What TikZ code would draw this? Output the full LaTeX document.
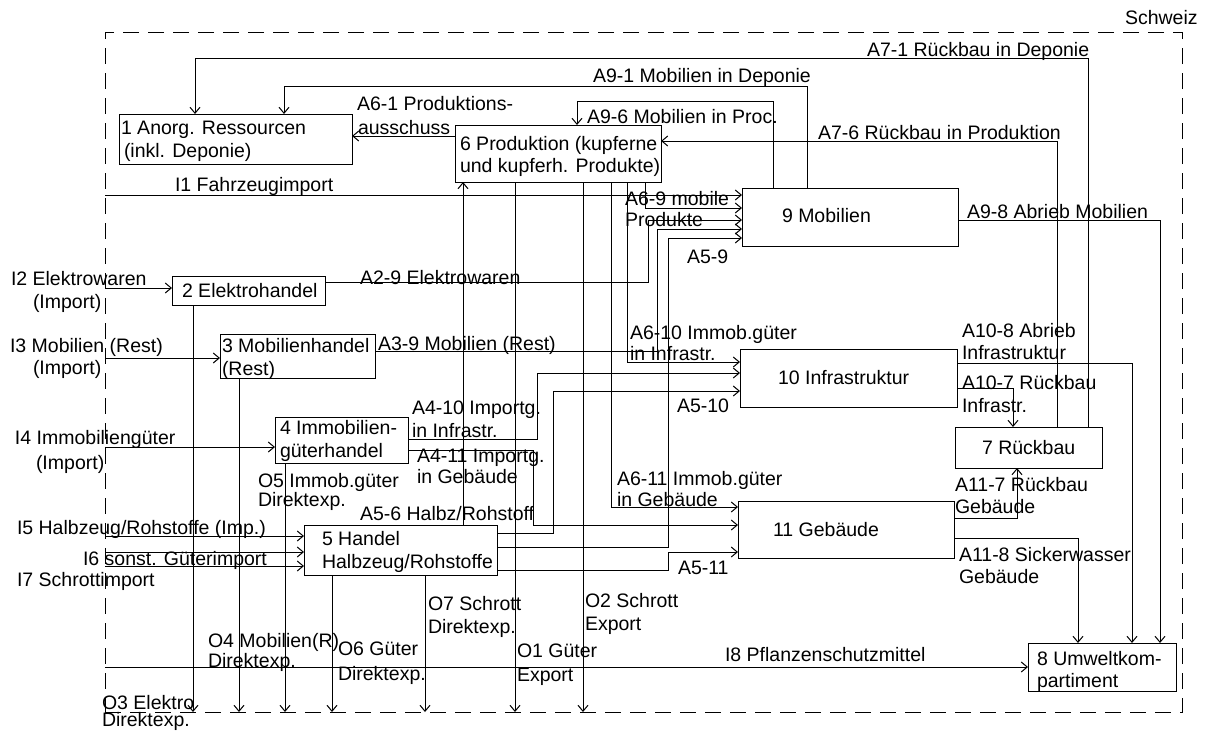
\documentclass[tikz,border=0pt]{standalone}
\usepackage{fontspec}
\setmainfont{Liberation Sans}
\usetikzlibrary{arrows.meta}
\newcommand\lab[4]{\node[txt] (#1) at (#2,#3) {#4};}
\begin{document}
\begin{tikzpicture}[x=1pt,y=-1pt,
  font=\fontsize{19.5}{22}\selectfont,
  line width=1pt,
  box/.style={draw, anchor=north west, inner sep=0pt, outer sep=0pt},
  txt/.style={anchor=base west, inner sep=0pt, outer sep=0pt, yshift=-7pt},
  arr/.style={-{Straight Barb[length=6pt,width=10pt]}}]
\useasboundingbox (0,0) rectangle (1211,731);
% boundary
\node[box, dash pattern=on 16pt off 9pt, minimum width=1077pt, minimum height=680pt] (ch) at (105,32) {};
\lab{lch}{1125}{17}{Schweiz}
% boxes
\node[box, minimum width=233pt, minimum height=50pt] (n1) at (119,114) {};
\node[box, minimum width=206pt, minimum height=57pt] (n6) at (455,125) {};
\node[box, minimum width=216pt, minimum height=58pt] (n9) at (742,188) {};
\node[box, minimum width=153pt, minimum height=29pt] (n2) at (172,276) {};
\node[box, minimum width=155pt, minimum height=44pt] (n3) at (220,334) {};
\node[box, minimum width=133pt, minimum height=46pt] (n4) at (275,417) {};
\node[box, minimum width=193pt, minimum height=50pt] (n5) at (304,525) {};
\node[box, minimum width=217pt, minimum height=58pt] (n10) at (740,349) {};
\node[box, minimum width=147pt, minimum height=41pt] (n7) at (955,427) {};
\node[box, minimum width=216pt, minimum height=57pt] (n11) at (738,501) {};
\node[box, minimum width=148pt, minimum height=48pt] (n8) at (1028,643) {};
% box texts
\lab{t1a}{121}{127}{1 Anorg. Ressourcen}
\lab{t1b}{124}{150}{(inkl. Deponie)}
\lab{t6a}{460}{143}{6 Produktion (kupferne}
\lab{t6b}{460}{165}{und kupferh. Produkte)}
\lab{t9}{782}{215}{9 Mobilien}
\lab{t2}{182}{290}{2 Elektrohandel}
\lab{t3a}{222}{345}{3 Mobilienhandel}
\lab{t3b}{222}{368}{(Rest)}
\lab{t4a}{280}{427}{4 Immobilien-}
\lab{t4b}{280}{450}{güterhandel}
\lab{t5a}{322}{538}{5 Handel}
\lab{t5b}{322}{561}{Halbzeug/Rohstoffe}
\lab{t10}{778}{377}{10 Infrastruktur}
\lab{t7}{982}{447}{7 Rückbau}
\lab{t11}{773}{529}{11 Gebäude}
\lab{t8a}{1037}{658}{8 Umweltkom-}
\lab{t8b}{1037}{680}{partiment}
% return flows
\draw[arr] (n7.north -| 1088,0) |- (195,58) -- (n1.north -| 195,0);
\draw[arr] (n7.north -| 1057,0) |- (n6.east |- 0,141);
\draw[arr] (n9.north -| 807,0) |- (284,86) -- (n1.north -| 284,0);
\draw[arr] (n9.north -| 773,0) |- (577,101) -- (n6.north -| 577,0);
\draw[arr] (n6.west |- 0,136) -- (n1.east |- 0,136);
% into Mobilien
\draw[arr] (ch.west |- 0,195) -- (n9.west |- 0,195);
\draw[arr] (n6.south -| 645,0) |- (n9.west |- 0,208);
\draw[arr] (n2.east |- 0,282) -| (648,220) -- (n9.west |- 0,220);
\draw[arr] (n3.east |- 0,351) -| (657,229) -- (n9.west |- 0,229);
\draw[arr] (n5.east |- 0,547) -| (668,238) -- (n9.west |- 0,238);
% into Infrastruktur
\draw[arr] (n6.south -| 627,0) |- (n10.west |- 0,362);
\draw[arr] (n4.east |- 0,439) -| (537,373) -- (n10.west |- 0,373);
\draw[arr] (n5.east |- 0,533) -| (553,391) -- (n10.west |- 0,391);
% into Gebaeude
\draw[arr] (n6.south -| 611,0) |- (n11.west |- 0,507);
\draw[arr] (n4.east |- 0,450) -| (533,525) -- (n11.west |- 0,525);
\draw[arr] (n5.east |- 0,570) -| (668,552) -- (n11.west |- 0,552);
% into Produktion
\draw[arr] (n5.north -| 463,0) -- (n6.south -| 463,0);
% to Umwelt / Rueckbau
\draw[arr] (n9.east |- 0,220) -| (n8.north -| 1160,0);
\draw[arr] (n10.east |- 0,363) -| (n8.north -| 1132,0);
\draw[arr] (n10.east |- 0,388) -| (n7.north -| 1013,0);
\draw[arr] (n11.east |- 0,518) -| (n7.south -| 1017,0);
\draw[arr] (n11.east |- 0,538) -| (n8.north -| 1078,0);
% imports
\draw[arr] (ch.west |- 0,288) -- (n2.west |- 0,288);
\draw[arr] (ch.west |- 0,358) -- (n3.west |- 0,358);
\draw[arr] (ch.west |- 0,447) -- (n4.west |- 0,447);
\draw[arr] (ch.west |- 0,536) -- (n5.west |- 0,536);
\draw[arr] (ch.west |- 0,552) -- (n5.west |- 0,552);
\draw[arr] (ch.west |- 0,566) -- (n5.west |- 0,566);
\draw[arr] (ch.west |- 0,667) -- (n8.west |- 0,667);
% exports
\draw[arr] (n2.south -| 193,0) -- (ch.south -| 193,0);
\draw[arr] (n3.south -| 239,0) -- (ch.south -| 239,0);
\draw[arr] (n4.south -| 285,0) -- (ch.south -| 285,0);
\draw[arr] (n5.south -| 332,0) -- (ch.south -| 332,0);
\draw[arr] (n5.south -| 425,0) -- (ch.south -| 425,0);
\draw[arr] (n6.south -| 515,0) -- (ch.south -| 515,0);
\draw[arr] (n6.south -| 583,0) -- (ch.south -| 583,0);
% labels
\lab{l71}{867}{49}{A7-1 Rückbau in Deponie}
\lab{l91}{593}{75}{A9-1 Mobilien in Deponie}
\lab{l61a}{357}{103}{A6-1 Produktions-}
\lab{l61b}{358}{127}{ausschuss}
\lab{l96}{587}{116}{A9-6 Mobilien in Proc.}
\lab{l76}{818}{132}{A7-6 Rückbau in Produktion}
\lab{li1}{175}{184}{I1 Fahrzeugimport}
\lab{l69a}{625}{198}{A6-9 mobile}
\lab{l69b}{625}{219}{Produkte}
\lab{l98}{967}{211}{A9-8 Abrieb Mobilien}
\lab{l59}{687}{256}{A5-9}
\lab{li2a}{11}{278}{I2 Elektrowaren}
\lab{li2b}{33}{301}{(Import)}
\lab{l29}{360}{277}{A2-9 Elektrowaren}
\lab{l610a}{630}{332}{A6-10 Immob.güter}
\lab{l610b}{630}{353}{in Infrastr.}
\lab{l108a}{962}{330}{A10-8 Abrieb}
\lab{l108b}{962}{352}{Infrastruktur}
\lab{li3a}{10}{345}{I3 Mobilien (Rest)}
\lab{li3b}{33}{367}{(Import)}
\lab{l39}{378}{343}{A3-9 Mobilien (Rest)}
\lab{l107a}{962}{382}{A10-7 Rückbau}
\lab{l107b}{962}{405}{Infrastr.}
\lab{l510}{677}{405}{A5-10}
\lab{l410a}{412}{407}{A4-10 Importg.}
\lab{l410b}{412}{430}{in Infrastr.}
\lab{li4a}{15}{437}{I4 Immobiliengüter}
\lab{li4b}{36}{462}{(Import)}
\lab{l411a}{417}{455}{A4-11 Importg.}
\lab{l411b}{417}{476}{in Gebäude}
\lab{lo5a}{258}{480}{O5 Immob.güter}
\lab{lo5b}{258}{499}{Direktexp.}
\lab{l611a}{617}{478}{A6-11 Immob.güter}
\lab{l611b}{617}{499}{in Gebäude}
\lab{l117a}{955}{484}{A11-7 Rückbau}
\lab{l117b}{955}{506}{Gebäude}
\lab{l56}{360}{513}{A5-6 Halbz/Rohstoff}
\lab{li5}{17}{527}{I5 Halbzeug/Rohstoffe (Imp.)}
\lab{li6}{83}{558}{I6 sonst. Güterimport}
\lab{li7}{17}{579}{I7 Schrottimport}
\lab{l118a}{959}{554}{A11-8 Sickerwasser}
\lab{l118b}{959}{576}{Gebäude}
\lab{l511}{678}{567}{A5-11}
\lab{lo2a}{585}{600}{O2 Schrott}
\lab{lo2b}{585}{623}{Export}
\lab{lo7a}{428}{603}{O7 Schrott}
\lab{lo7b}{428}{626}{Direktexp.}
\lab{lo4a}{208}{640}{O4 Mobilien(R)}
\lab{lo4b}{208}{660}{Direktexp.}
\lab{lo6a}{338}{648}{O6 Güter}
\lab{lo6b}{338}{673}{Direktexp.}
\lab{lo1a}{517}{650}{O1 Güter}
\lab{lo1b}{517}{674}{Export}
\lab{li8}{725}{654}{I8 Pflanzenschutzmittel}
\lab{lo3a}{102}{702}{O3 Elektro}
\lab{lo3b}{102}{719}{Direktexp.}
\end{tikzpicture}
\end{document}
